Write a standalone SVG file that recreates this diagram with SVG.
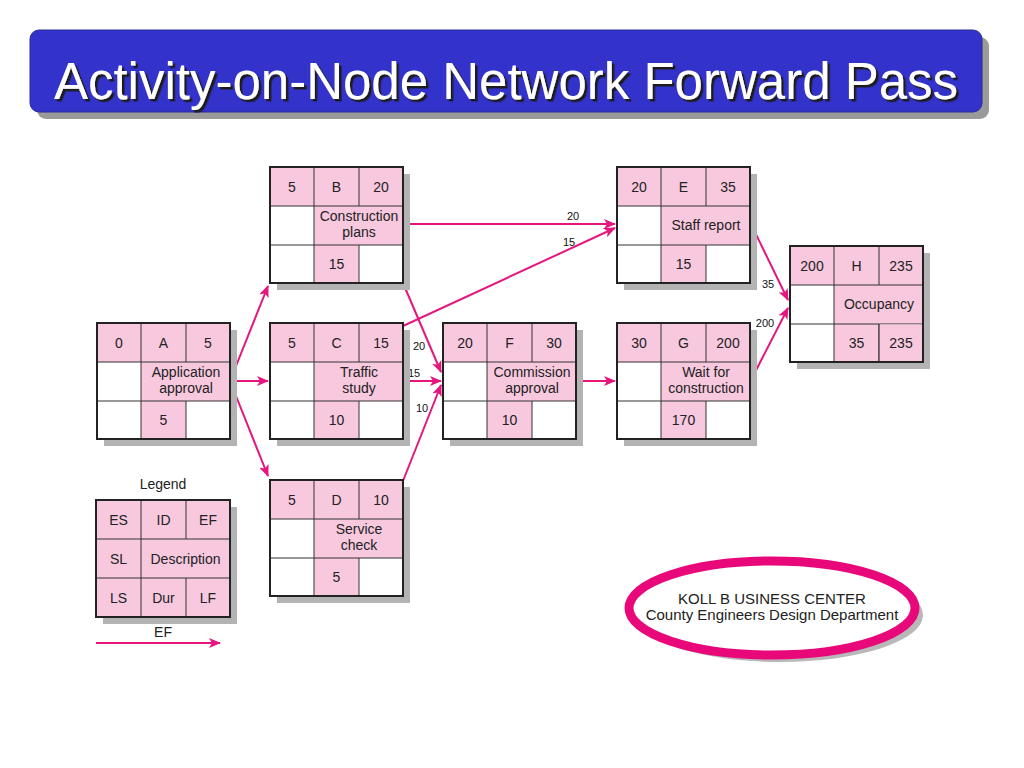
<svg xmlns="http://www.w3.org/2000/svg" width="1024" height="768" viewBox="0 0 1024 768">
<defs>
<style>
.t{font-family:"Liberation Sans",Arial,sans-serif;font-size:14px;fill:#222;text-anchor:middle}
.lb{font-family:"Liberation Sans",Arial,sans-serif;font-size:11px;fill:#111;text-anchor:middle}
.pk{fill:#F8C8DF}
.wh{fill:#fff}
.sh{fill:#B3B3B3}
.ob{fill:none;stroke:#222;stroke-width:2}
.in{stroke:#333;stroke-width:1}
.cn{fill:none;stroke:#E5177E;stroke-width:2;marker-end:url(#ah)}
</style>
<filter id="ts" x="-5%" y="-20%" width="110%" height="140%">
<feDropShadow dx="2.5" dy="2.5" stdDeviation="0.6" flood-color="#1a1a1a" flood-opacity="1"/>
</filter>
<marker id="ah" viewBox="0 0 12 10" refX="11" refY="5" markerWidth="12" markerHeight="10" markerUnits="userSpaceOnUse" orient="auto">
<path d="M0,0 L12,5 L0,10 L3,5 z" fill="#E5177E"/>
</marker>
<g id="cells">
<rect class="sh" x="7" y="7" width="133" height="116"/>
<rect class="wh" x="0" y="0" width="133" height="116"/>
<rect class="pk" x="0" y="0" width="133" height="39"/>
<rect class="pk" x="44" y="39" width="89" height="39"/>
<rect class="pk" x="44" y="78" width="45" height="38"/>
<line class="in" x1="44" y1="0" x2="44" y2="116"/>
<line class="in" x1="89" y1="0" x2="89" y2="39"/>
<line class="in" x1="89" y1="78" x2="89" y2="116"/>
<line class="in" x1="0" y1="39" x2="133" y2="39"/>
<line class="in" x1="0" y1="78" x2="133" y2="78"/>
<rect class="ob" x="0" y="0" width="133" height="116"/>
</g>
</defs>
<rect width="1024" height="768" fill="#fff"/>
<g id="title">
<rect x="37" y="37" width="952" height="82" rx="9" fill="#9a9a9a"/>
<rect x="30" y="30" width="952" height="82" rx="9" fill="#3333CC" stroke="#2a2a99" stroke-width="1"/>
<text x="506" y="99" font-family="Liberation Sans,Arial,sans-serif" font-size="51" fill="#fff" text-anchor="middle" filter="url(#ts)">Activity-on-Node Network Forward Pass</text>
</g>
<g id="connectors">
<line class="cn" x1="230" y1="381" x2="268" y2="286"/>
<line class="cn" x1="230" y1="381" x2="268" y2="381"/>
<line class="cn" x1="230" y1="381" x2="268" y2="476"/>
<line class="cn" x1="403" y1="224" x2="615" y2="224"/>
<line class="cn" x1="403" y1="326" x2="615" y2="228"/>
<line class="cn" x1="403" y1="283" x2="441" y2="372"/>
<line class="cn" x1="403" y1="381" x2="441" y2="381"/>
<line class="cn" x1="403" y1="481" x2="441" y2="385"/>
<line class="cn" x1="577" y1="381" x2="615" y2="381"/>
<line class="cn" x1="750" y1="222" x2="788" y2="300"/>
<line class="cn" x1="750" y1="382" x2="788" y2="308"/>
<text class="lb" x="573" y="220">20</text>
<text class="lb" x="569" y="246">15</text>
<text class="lb" x="419" y="350">20</text>
<text class="lb" x="414" y="377">15</text>
<text class="lb" x="422" y="412">10</text>
<text class="lb" x="768" y="288">35</text>
<text class="lb" x="765" y="327">200</text>
</g>
<g id="nodeA" transform="translate(97,323)">
<use href="#cells"/>
<text class="t" x="22" y="25">0</text><text class="t" x="66.5" y="25">A</text><text class="t" x="111" y="25">5</text>
<text class="t" x="89" y="54">Application</text><text class="t" x="89" y="70">approval</text>
<text class="t" x="66.5" y="102">5</text>
</g>
<g id="nodeB" transform="translate(270,167)">
<use href="#cells"/>
<text class="t" x="22" y="25">5</text><text class="t" x="66.5" y="25">B</text><text class="t" x="111" y="25">20</text>
<text class="t" x="89" y="54">Construction</text><text class="t" x="89" y="70">plans</text>
<text class="t" x="66.5" y="102">15</text>
</g>
<g id="nodeC" transform="translate(270,323)">
<use href="#cells"/>
<text class="t" x="22" y="25">5</text><text class="t" x="66.5" y="25">C</text><text class="t" x="111" y="25">15</text>
<text class="t" x="89" y="54">Traffic</text><text class="t" x="89" y="70">study</text>
<text class="t" x="66.5" y="102">10</text>
</g>
<g id="nodeD" transform="translate(270,480)">
<use href="#cells"/>
<text class="t" x="22" y="25">5</text><text class="t" x="66.5" y="25">D</text><text class="t" x="111" y="25">10</text>
<text class="t" x="89" y="54">Service</text><text class="t" x="89" y="70">check</text>
<text class="t" x="66.5" y="102">5</text>
</g>
<g id="nodeE" transform="translate(617,167)">
<use href="#cells"/>
<text class="t" x="22" y="25">20</text><text class="t" x="66.5" y="25">E</text><text class="t" x="111" y="25">35</text>
<text class="t" x="89" y="63">Staff report</text>
<text class="t" x="66.5" y="102">15</text>
</g>
<g id="nodeF" transform="translate(443,323)">
<use href="#cells"/>
<text class="t" x="22" y="25">20</text><text class="t" x="66.5" y="25">F</text><text class="t" x="111" y="25">30</text>
<text class="t" x="89" y="54">Commission</text><text class="t" x="89" y="70">approval</text>
<text class="t" x="66.5" y="102">10</text>
</g>
<g id="nodeG" transform="translate(617,323)">
<use href="#cells"/>
<text class="t" x="22" y="25">30</text><text class="t" x="66.5" y="25">G</text><text class="t" x="111" y="25">200</text>
<text class="t" x="89" y="54">Wait for</text><text class="t" x="89" y="70">construction</text>
<text class="t" x="66.5" y="102">170</text>
</g>
<g id="nodeH" transform="translate(790,246)">
<use href="#cells"/>
<rect class="pk" x="89.5" y="78.5" width="43" height="37"/>
<line class="in" x1="89" y1="78" x2="89" y2="116"/>
<rect class="ob" x="0" y="0" width="133" height="116"/>
<text class="t" x="22" y="25">200</text><text class="t" x="66.5" y="25">H</text><text class="t" x="111" y="25">235</text>
<text class="t" x="89" y="63">Occupancy</text>
<text class="t" x="66.5" y="102">35</text><text class="t" x="111" y="102">235</text>
</g>
<g id="legend">
<text class="t" x="163" y="489">Legend</text>
<g transform="translate(96,500)">
<rect class="sh" x="7" y="7" width="134" height="117"/>
<rect class="pk" x="0" y="0" width="134" height="117"/>
<line class="in" x1="45" y1="0" x2="45" y2="117"/>
<line class="in" x1="90" y1="0" x2="90" y2="39"/>
<line class="in" x1="90" y1="78" x2="90" y2="117"/>
<line class="in" x1="0" y1="39" x2="134" y2="39"/>
<line class="in" x1="0" y1="78" x2="134" y2="78"/>
<rect class="ob" x="0" y="0" width="134" height="117"/>
<text class="t" x="22.5" y="25">ES</text><text class="t" x="67.5" y="25">ID</text><text class="t" x="112" y="25">EF</text>
<text class="t" x="22.5" y="64">SL</text><text class="t" x="89.5" y="64">Description</text>
<text class="t" x="22.5" y="103">LS</text><text class="t" x="67.5" y="103">Dur</text><text class="t" x="112" y="103">LF</text>
</g>
<text class="t" x="163" y="637">EF</text>
<line class="cn" x1="96" y1="643" x2="220" y2="643"/>
</g>
<g id="badge">
<ellipse cx="780" cy="615" rx="143" ry="47" fill="#B8B8B8"/>
<ellipse cx="772" cy="608" rx="143" ry="47" fill="#fff" stroke="#E8087A" stroke-width="9"/>
<text x="772" y="604" font-family="Liberation Sans,Arial,sans-serif" font-size="15" fill="#222" text-anchor="middle">KOLL B USINESS CENTER</text>
<text x="772" y="620" font-family="Liberation Sans,Arial,sans-serif" font-size="15" fill="#222" text-anchor="middle">County Engineers Design Department</text>
</g>
</svg>
